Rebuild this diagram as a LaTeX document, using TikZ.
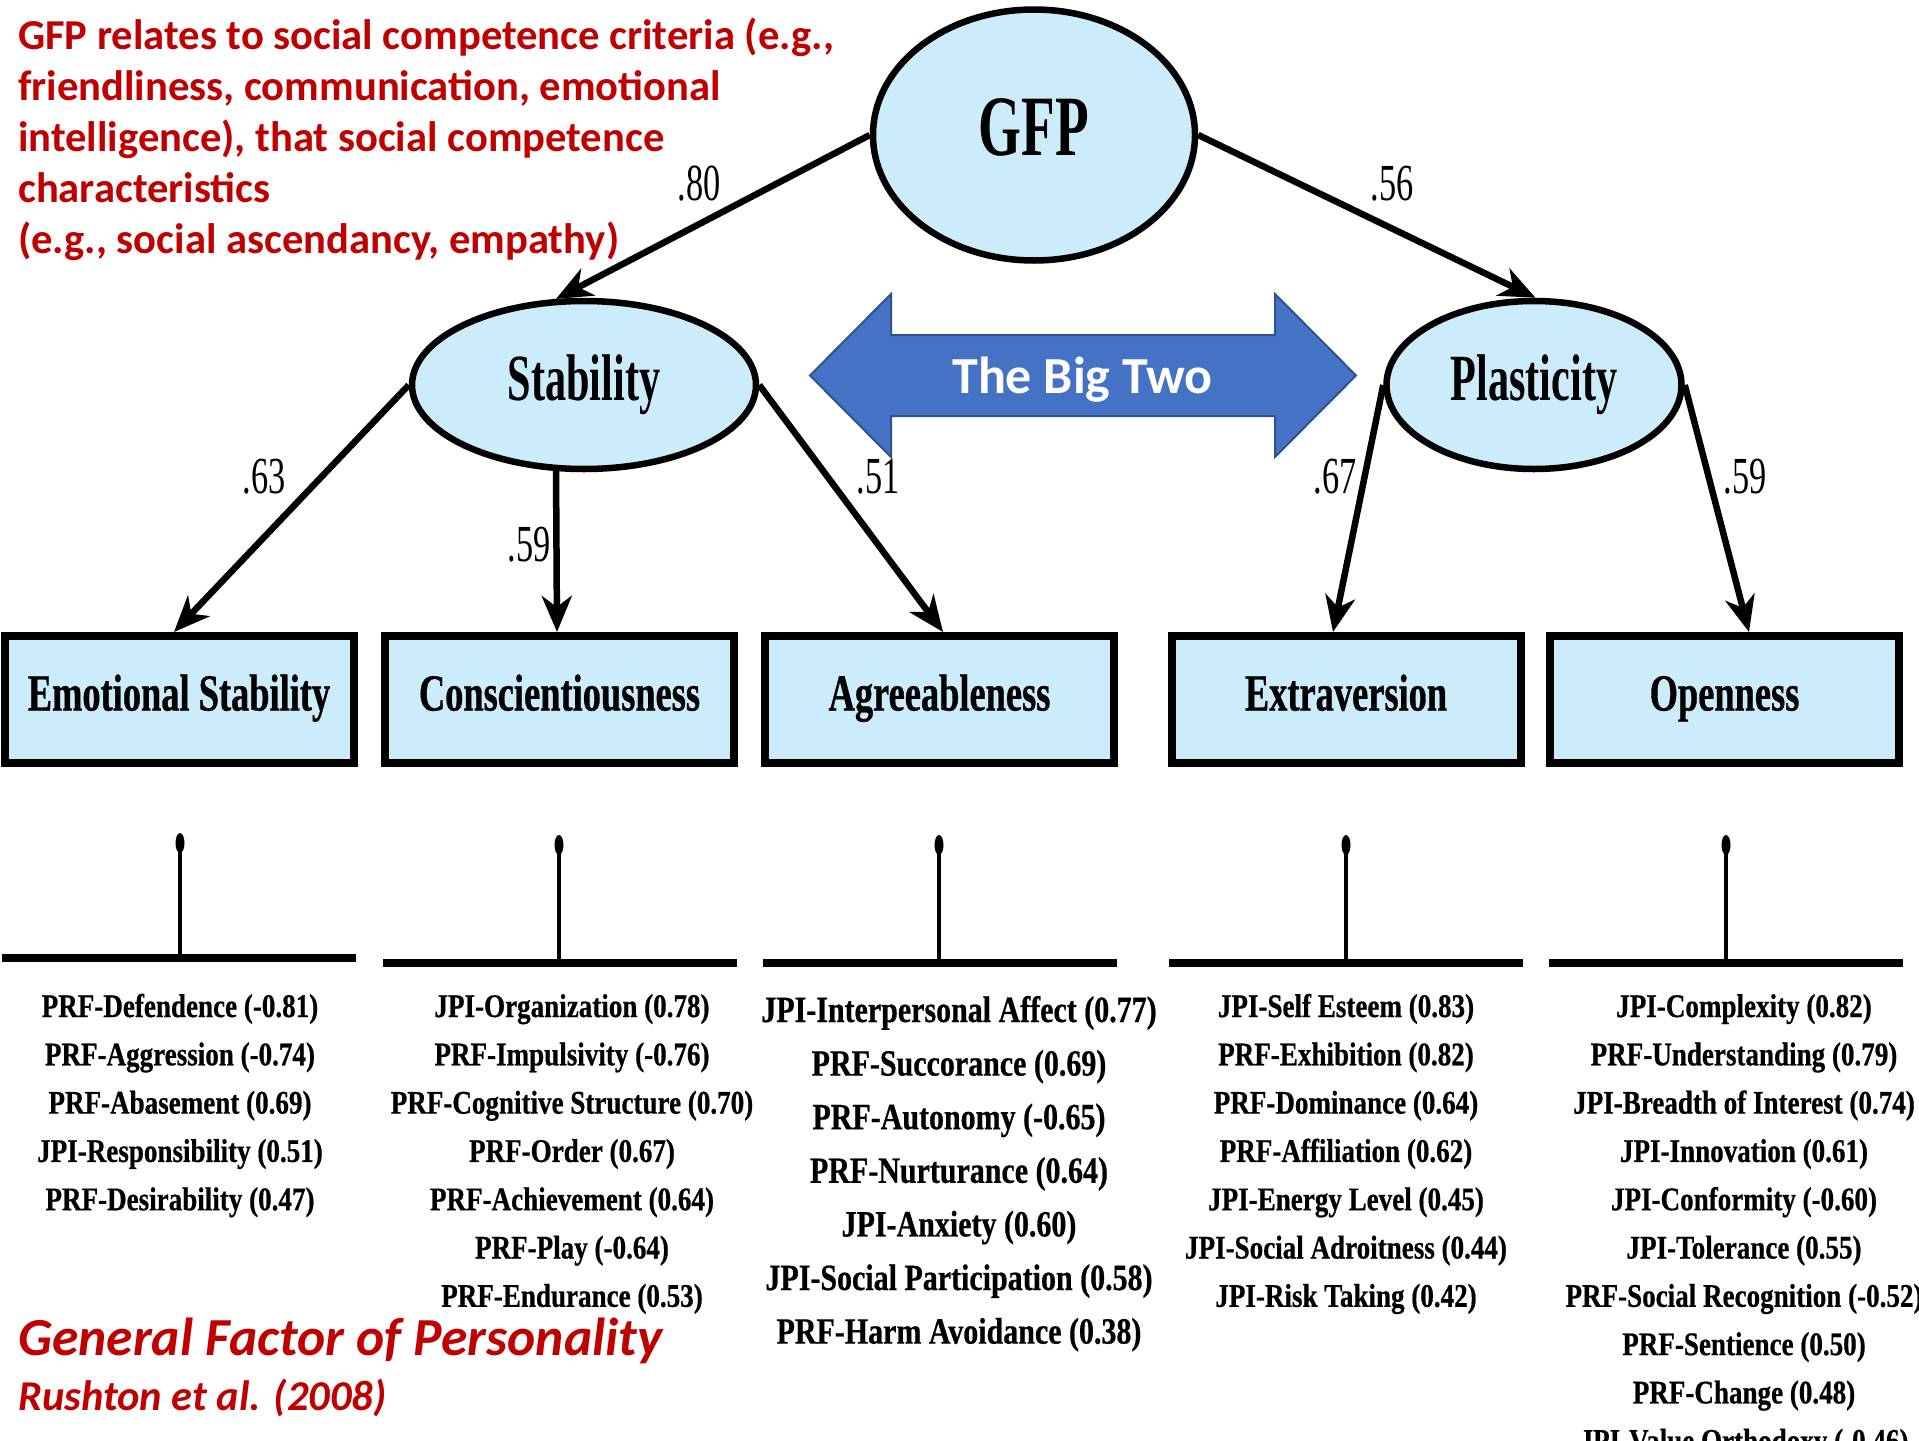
\documentclass[tikz,border=0pt]{standalone}
\usepackage{fontspec}
\setmainfont{Liberation Serif}
\newfontfamily\calibfont{Carlito}
\newfontfamily\ellfont[FakeStretch=0.64]{Liberation Serif}
\newfontfamily\boxfont[FakeStretch=0.70,FakeBold=0.6]{Liberation Serif}
\newfontfamily\edgefont[FakeStretch=0.66]{Liberation Serif}
\newfontfamily\listfont[FakeStretch=0.82,FakeBold=0.6]{Liberation Serif}
\newfontfamily\listfontb[FakeStretch=0.81,FakeBold=0.6]{Liberation Serif}
\usetikzlibrary{arrows.meta,shapes.geometric}
\definecolor{ltblue}{HTML}{CCEBFB}
\definecolor{darkred}{HTML}{C00000}
\definecolor{bigblue}{HTML}{4472C4}
\definecolor{bigedge}{HTML}{2F528F}
\begin{document}
\begin{tikzpicture}[x=1pt,y=-1pt,
  lat/.style={ellipse, draw=black, line width=6.5pt, fill=ltblue, inner sep=0pt},
  fac/.style={rectangle, draw=black, line width=8pt, fill=ltblue, inner sep=0pt,
    minimum width=349pt, minimum height=127pt, text height=36pt, text depth=14pt,
    font=\boxfont\bfseries\fontsize{52}{52}\selectfont},
  arr/.style={line width=6.5pt, -{Stealth[length=36pt,width=30pt,inset=11pt]}},
  coef/.style={inner sep=0pt, font=\edgefont\fontsize{52}{52}\selectfont},
  lst/.style={anchor=base, inner sep=0pt, font=\listfont\bfseries\fontsize{33}{40}\selectfont},
  lstb/.style={anchor=base, inner sep=0pt, font=\listfontb\bfseries\fontsize{37}{44}\selectfont},
  bar/.style={rectangle, fill=black, inner sep=0pt, minimum width=354pt, minimum height=8pt},
  pinhead/.style={ellipse, fill=black, inner sep=0pt, minimum width=9pt, minimum height=20pt},
  stem/.style={line width=4pt},
  note/.style={text=darkred, inner sep=0pt},
  bigarrow/.style={fill=bigblue, draw=bigedge, line width=2pt, line join=miter}
]
\useasboundingbox (0,0) rectangle (1919,1440);
\fill[white] (0,0) rectangle (1919,1440);
\clip (0,0) rectangle (1919,1440);

% latent factors
\node[lat, minimum width=322pt, minimum height=251pt, text height=58pt, text depth=18pt,
  font=\ellfont\bfseries\fontsize{86}{86}\selectfont] (gfp) at (1034,135) {GFP};
\node[lat, minimum width=344pt, minimum height=168pt, text height=45pt, text depth=15pt,
  font=\ellfont\bfseries\fontsize{66}{66}\selectfont] (stab) at (584,385) {Stability};
\node[lat, minimum width=295pt, minimum height=168pt, text height=45pt, text depth=15pt,
  font=\ellfont\bfseries\fontsize{66}{66}\selectfont] (plast) at (1534,385) {Plasticity};

% Big Two arrow
\draw[bigarrow] (810,375.5) -- (891,294) -- (891,335) -- (1275,335) -- (1275,294)
  -- (1356,375.5) -- (1275,457) -- (1275,416) -- (891,416) -- (891,457) -- cycle;
\node[anchor=base, inner sep=0pt, text=white, font=\calibfont\bfseries\fontsize{52}{52}\selectfont]
  (bigtwo) at (1082.5,393) {The Big Two};

% Big Five boxes
\node[fac] (es)  at (179,699.5)   {Emotional Stability};
\node[fac] (con) at (559.5,699.5) {Conscientiousness};
\node[fac] (agr) at (939.5,699.5) {Agreeableness};
\node[fac] (ext) at (1346,699.5)  {Extraversion};
\node[fac] (opn) at (1724.5,699.5){Openness};

% paths
\draw[arr] (gfp.west) -- (stab.108);
\draw[arr] (gfp.east) -- (plast.89);
\draw[arr] (stab.west) -- ([xshift=-5pt]es.north);
\draw[arr] (stab.252) -- ([xshift=-2.5pt]con.north);
\draw[arr] (stab.east) -- ([xshift=3.5pt]agr.north);
\draw[arr] (plast.west) -- ([xshift=-13pt]ext.north);
\draw[arr] (plast.east) -- ([xshift=24.5pt]opn.north);

% coefficients
\node[coef] (c80) at (699,184) {.80};
\node[coef] (c56) at (1392,184) {.56};
\node[coef] (c63) at (264,477) {.63};
\node[coef] (c59a) at (529,545) {.59};
\node[coef] (c51) at (878,477) {.51};
\node[coef] (c67) at (1335,477) {.67};
\node[coef] (c59b) at (1745,477) {.59};

% pins and bars
\node[bar] (esbar)  at (179,958) {};
\node[bar] (conbar) at (559.5,963) {};
\node[bar] (agrbar) at (939.5,963) {};
\node[bar] (extbar) at (1346,963) {};
\node[bar] (opnbar) at (1726,963) {};
\node[pinhead] (espin)  at (180,843) {};
\node[pinhead] (conpin) at (559,845) {};
\node[pinhead] (agrpin) at (939,845) {};
\node[pinhead] (extpin) at (1346,845) {};
\node[pinhead] (opnpin) at (1726,845) {};
\draw[stem] (espin.center) -- (espin |- esbar.center);
\draw[stem] (conpin.center) -- (conpin |- conbar.center);
\draw[stem] (agrpin.center) -- (agrpin |- agrbar.center);
\draw[stem] (extpin.center) -- (extpin |- extbar.center);
\draw[stem] (opnpin.center) -- (opnpin |- opnbar.center);

% indicator lists
\foreach \t [count=\i from 0] in {PRF-Defendence (-0.81), PRF-Aggression (-0.74), PRF-Abasement (0.69), JPI-Responsibility (0.51), PRF-Desirability (0.47)}
  \node[lst] (esl\i) at (180,{1017+48.3*\i}) {\t};
\foreach \t [count=\i from 0] in {JPI-Organization (0.78), PRF-Impulsivity (-0.76), PRF-Cognitive Structure (0.70), PRF-Order (0.67), PRF-Achievement (0.64), PRF-Play (-0.64), PRF-Endurance (0.53)}
  \node[lst] (conl\i) at (572,{1017+48.3*\i}) {\t};
\foreach \t [count=\i from 0] in {JPI-Interpersonal Affect (0.77), PRF-Succorance (0.69), PRF-Autonomy (-0.65), PRF-Nurturance (0.64), JPI-Anxiety (0.60), JPI-Social Participation (0.58), PRF-Harm Avoidance (0.38)}
  \node[lstb] (agrl\i) at (959,{1022+53.6*\i}) {\t};
\foreach \t [count=\i from 0] in {JPI-Self Esteem (0.83), PRF-Exhibition (0.82), PRF-Dominance (0.64), PRF-Affiliation (0.62), JPI-Energy Level (0.45), JPI-Social Adroitness (0.44), JPI-Risk Taking (0.42)}
  \node[lst] (extl\i) at (1346,{1017+48.3*\i}) {\t};
\foreach \t [count=\i from 0] in {JPI-Complexity (0.82), PRF-Understanding (0.79), JPI-Breadth of Interest (0.74), JPI-Innovation (0.61), JPI-Conformity (-0.60), JPI-Tolerance (0.55), PRF-Social Recognition (-0.52), PRF-Sentience (0.50), PRF-Change (0.48), JPI-Value Orthodoxy (-0.46)}
  \node[lst] (opnl\i) at (1744,{1017+48.3*\i}) {\t};

% red notes
\node[note, anchor=base west, align=left, font=\calibfont\bfseries\fontsize{42.6}{51}\selectfont]
  (notetxt) at (18,253) {GFP relates to social competence criteria (e.g.,\\friendliness, communication, emotional\\intelligence), that social competence\\characteristics\\(e.g., social ascendancy, empathy)};
\node[note, anchor=base west, font=\calibfont\bfseries\itshape\fontsize{53.5}{53.5}\selectfont]
  (gfptitle) at (18,1355) {General Factor of Personality};
\node[note, anchor=base west, font=\calibfont\bfseries\itshape\fontsize{42.5}{42.5}\selectfont]
  (cite) at (18,1410) {Rushton et al. (2008)};
\end{tikzpicture}
\end{document}
